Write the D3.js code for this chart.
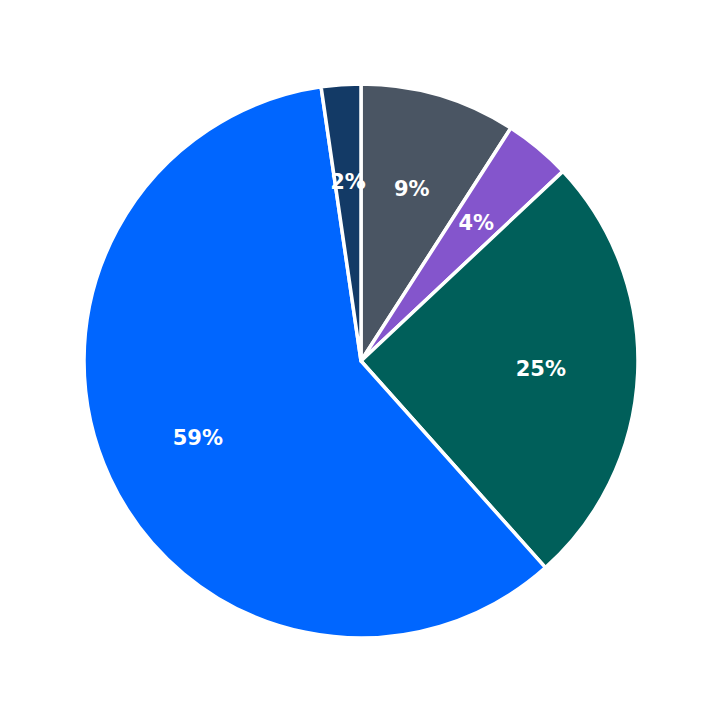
<!DOCTYPE html>
<html><head><meta charset="utf-8">
<script src="https://cdn.jsdelivr.net/npm/d3@7"></script>
<style>body{margin:0;background:#fff}</style>
</head><body>
<svg width="723" height="723"></svg>
<script>
var labels = ['9%', '4%', '25%', '59%', '2%'];
var values = [9.1, 3.9, 25.4, 59.3, 2.3];
var colors = ['#4a5563', '#8455cc', '#005f5a', '#0066ff', '#133a66'];

var svg = d3.select('svg');
var r = 277;
var g = svg.append('g').attr('transform', 'translate(361,361)');

var pie = d3.pie().sort(null).value(function (d) { return d; });
var arc = d3.arc().innerRadius(0).outerRadius(r);
var labelArc = d3.arc().innerRadius(r * 0.65).outerRadius(r * 0.65);
var arcs = pie(values);

g.selectAll('path').data(arcs).enter().append('path')
  .attr('d', arc)
  .attr('fill', function (d, i) { return colors[i]; })
  .attr('stroke', '#fff')
  .attr('stroke-width', 3.5)
  .attr('stroke-linejoin', 'round');

g.selectAll('text').data(arcs).enter().append('text')
  .attr('transform', function (d) { return 'translate(' + labelArc.centroid(d) + ')'; })
  .attr('text-anchor', 'middle')
  .attr('dy', '0.35em')
  .attr('fill', '#fff')
  .style('font', 'bold 21px "DejaVu Sans", sans-serif')
  .text(function (d, i) { return labels[i]; });
</script>
</body></html>
